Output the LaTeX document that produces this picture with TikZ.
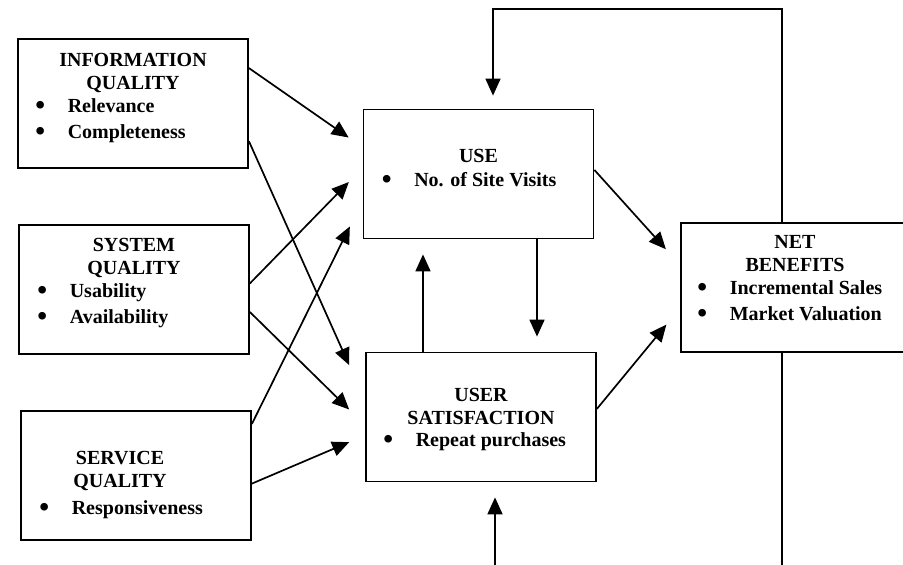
\documentclass[tikz,border=0pt]{standalone}
\usepackage{fontspec}
\setmainfont{Liberation Serif}
\usetikzlibrary{arrows.meta}
\tikzset{
    box/.style = { draw, line width=1.8pt, minimum width=230pt, minimum height=129pt, inner sep=0 },
  title/.style = { font=\bfseries\fontsize{20}{23}\selectfont, align=center, anchor=north, inner sep=0 },
  items/.style = { font=\bfseries\fontsize{20}{26}\selectfont, align=left, anchor=north west, inner sep=0 },
  arrow/.style = { line width=1.7pt, -{Triangle[length=17pt, width=15pt]} },
   wire/.style = { line width=1.7pt },
}
\newcommand*{\bul}[1]{\makebox[32.5pt][l]{\raisebox{-1.6pt}{\scalebox{1.4}{\textbullet}}}#1}

\begin{document}
\begin{tikzpicture}[x=1pt, y=-1pt]
  \useasboundingbox (0,0) rectangle (903,565);
  \clip (0,0) rectangle (903,565);
  \coordinate (top)    at (0,9);
  \coordinate (bottom) at (0,570);

  % boxes
  \node [box] (info) at (133,103.5) {};
  \node [box] (sys)  at (134,289.5) {};
  \node [box] (serv) at (136,475.5) {};
  \node [box] (use)  at (478.5,174) {};
  \node [box] (sat)  at (481,417)   {};
  \node [box] (net)  at (796,287.5) {};

  % texts
  \node [title] (info-title) at ([yshift=-14.8pt]info.north) {INFORMATION\\QUALITY};
  \node [items] (info-items) at ([xshift=18pt, yshift=-60.5pt]info.north west)
    {\bul{Relevance}\\\bul{Completeness}};
  \node [title] (sys-title) at ([yshift=-13.8pt]sys.north) {SYSTEM\\QUALITY};
  \node [items] (sys-items) at ([xshift=19pt, yshift=-59.5pt]sys.north west)
    {\bul{Usability}\\\bul{Availability}};
  \node [title] (serv-title) at ([xshift=-16pt, yshift=-40.8pt]serv.north) {SERVICE\\QUALITY};
  \node [items] (serv-items) at ([xshift=19pt, yshift=-90.6pt]serv.north west)
    {\bul{Responsiveness}};
  \node [title] (use-title) at ([yshift=-40.3pt]use.north) {USE};
  \node [items] (use-items) at ([xshift=19pt, yshift=-63.7pt]use.north west)
    {\bul{No. of Site Visits}};
  \node [title] (sat-title) at ([yshift=-36.3pt]sat.north) {USER\\SATISFACTION};
  \node [items] (sat-items) at ([xshift=18pt, yshift=-81pt]sat.north west)
    {\bul{Repeat purchases}};
  \node [title] (net-title) at ([xshift=-1pt, yshift=-12.8pt]net.north) {NET\\BENEFITS};
  \node [items] (net-items) at ([xshift=17pt, yshift=-58.5pt]net.north west)
    {\bul{Incremental Sales}\\\bul{Market Valuation}};

  % arrows
  \foreach \src/\sa/\dst/\da/\gap in {info/17.2/use/167.2/17, info/342.4/sat/172.9/39,
      sys/3.7/use/177.6/19.7, sys/349/sat/184.2/22.3, serv/24.5/use/193.8/28.7,
      serv/356.8/sat/189.1/17.3, use/2.9/net/169.4/21.2, sat/4.9/net/190.4/21.6}
    \draw [arrow, shorten >=\gap pt] (\src.\sa) -- (\dst.\da);
  \draw [arrow, shorten >=15pt] ([xshift=58.5pt]use.south) -- ([xshift=58.5pt]use.south |- sat.north);
  \draw [arrow, shorten >=15pt] ([xshift=-58pt]sat.north) -- ([xshift=-58pt]sat.north |- use.south);
  \draw [arrow, shorten >=13pt] ([xshift=-14pt]net.north) |- ([xshift=14.5pt]use.north |- top)
    -- ([xshift=14.5pt]use.north);
  \draw [wire] ([xshift=-14pt]net.south) -- ([xshift=-14pt]net.south |- bottom);
  \draw [arrow, shorten >=15pt] ([xshift=14pt]sat.south |- bottom) -- ([xshift=14pt]sat.south);
\end{tikzpicture}
\end{document}
